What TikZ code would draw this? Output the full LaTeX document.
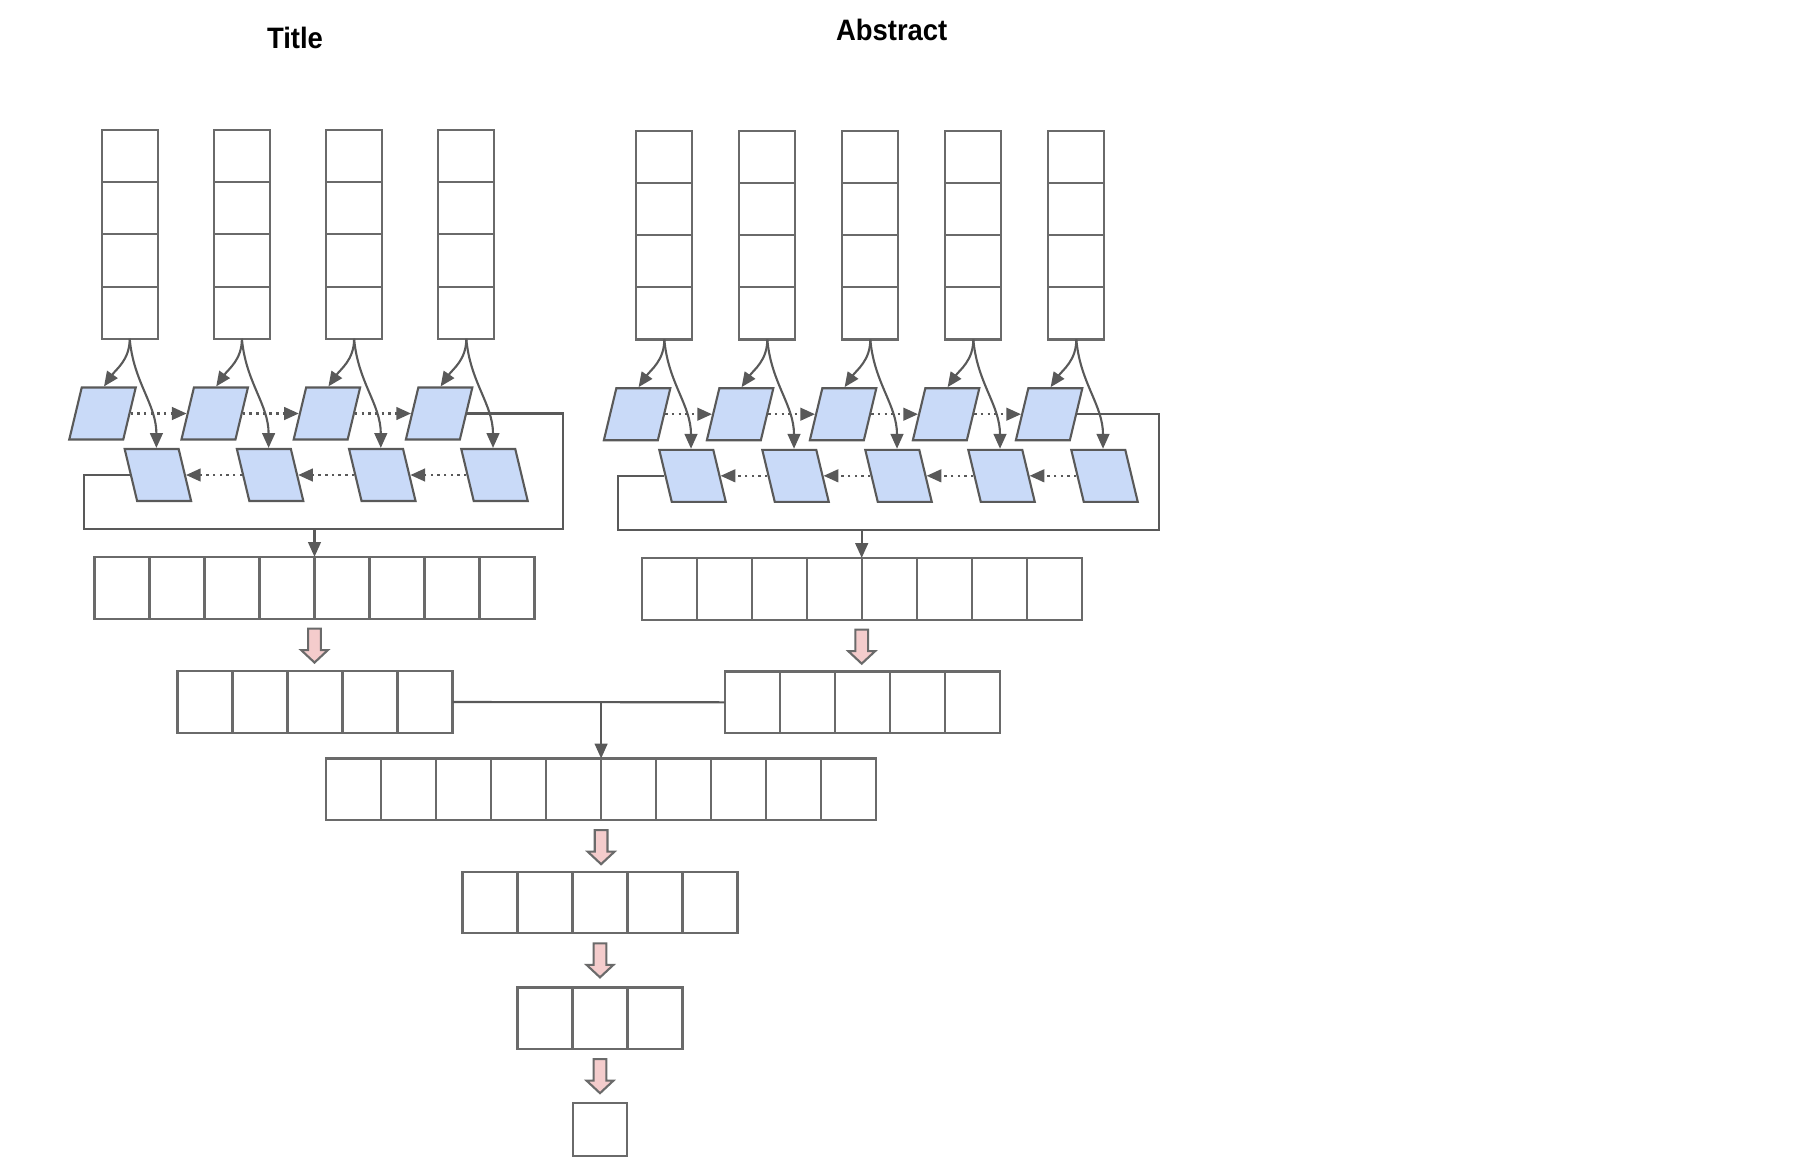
\documentclass[tikz,border=0pt]{standalone}
\usepackage{fontspec}
\newfontfamily\headfont[FakeStretch=0.93]{Liberation Sans}
\usetikzlibrary{arrows.meta,positioning,fit,calc}
\definecolor{LineGray}{HTML}{595959}
\definecolor{CellGray}{HTML}{6A6A6A}
\definecolor{LstmBlue}{HTML}{C9DAF8}
\definecolor{DensePink}{HTML}{F4CCCC}
\tikzset{
    % white slots of the token columns and vectors
    cell/.style={
        rectangle,
        draw=CellGray,
        fill=white,
        line width=0.6pt,
        minimum width=0.55cm,
        minimum height=0.617cm,
        inner sep=0pt,
        outer sep=0pt
    },
    slot/.style={cell, minimum width=0.56cm, minimum height=0.522cm},
    group/.style={inner sep=0pt, outer sep=0pt},
    % slanted lstm units
    lstm/.style={
        rectangle,
        draw=LineGray,
        fill=LstmBlue,
        line width=0.6pt,
        minimum width=0.54cm,
        minimum height=0.52cm,
        inner sep=0pt
    },
    fwd/.style={lstm, xslant=0.24},
    bwd/.style={lstm, xslant=-0.24},
    head/.style={
        font=\headfont\bfseries\fontsize{8.4}{10}\selectfont,
        inner sep=0pt
    },
    line/.style={draw=LineGray, line width=0.6pt},
    arrow/.style={
        -{Triangle[length=4.2pt,width=3.6pt]},
        draw=LineGray,
        line width=0.6pt
    },
    dotarrow/.style={
        arrow,
        line width=0.7pt,
        dash pattern=on 0.7pt off 1.2pt
    },
    fatarrow/.style={draw=CellGray, fill=DensePink, line width=0.6pt},
    pics/fatdown/.style={code={
        \draw[fatarrow] (-0.064,0) -- (0.064,0) -- (0.064,-0.215) -- (0.134,-0.215)
            -- (0,-0.34) -- (-0.134,-0.215) -- (-0.064,-0.215) -- cycle;
    }}
}
\begin{document}
\begin{tikzpicture}
    \useasboundingbox (0,0) rectangle (18.16,-11.69);

    \node[head] (ttitle) at (2.95,-0.375) {Title};
    \node[head] (atitle) at (8.917,-0.30) {Abstract};

    % Title encoder
    \foreach \k in {1,...,4} {
        \foreach \j in {1,...,4}
            \node[slot] (tw\k\j) at ({1.297+1.122*(\k-1)},{-1.30-0.522*(\j-0.5)}) {};
        \node[group, fit=(tw\k1)(tw\k4)] (tw\k) {};
        \node[fwd] (tf\k) at ({1.025+1.122*(\k-1)},-4.135) {};
        \node[bwd] (tb\k) at ({1.579+1.122*(\k-1)},-4.75) {};
        \draw[arrow] (tw\k.south) to[out=-90,in=55] ([xshift=-0.05cm]tf\k.north);
        \draw[arrow] (tw\k.south) to[out=-85,in=90] ([xshift=0.05cm]tb\k.north);
    }
    \foreach \k [count=\n from 2] in {1,...,3} {
        \draw[dotarrow] (tf\k.east) -- (tf\n.west);
        \draw[dotarrow] (tb\n.west) -- (tb\k.east);
    }
    \coordinate (tloopR) at (5.633,-5.29);
    \coordinate (tloopL) at (0.843,-5.29);
    \draw[line] (tf4.east) -| (tloopR) -- (tloopL) |- (tb1.west);

    \foreach \i in {1,...,8}
        \node[cell] (tc\i) at ({1.22+0.55*(\i-1)},-5.877) {};
    \node[group, fit=(tc1)(tc8)] (tcat) {};
    \draw[arrow] (tloopL -| tcat.north) -- (tcat.north);

    % Abstract encoder
    \foreach \k in {1,...,5} {
        \foreach \j in {1,...,4}
            \node[slot] (aw\k\j) at ({6.643+1.03*(\k-1)},{-1.307-0.522*(\j-0.5)}) {};
        \node[group, fit=(aw\k1)(aw\k4)] (aw\k) {};
        \node[fwd] (af\k) at ({6.371+1.03*(\k-1)},-4.142) {};
        \node[bwd] (ab\k) at ({6.925+1.03*(\k-1)},-4.758) {};
        \draw[arrow] (aw\k.south) to[out=-90,in=55] ([xshift=-0.05cm]af\k.north);
        \draw[arrow] (aw\k.south) to[out=-85,in=90] ([xshift=0.05cm]ab\k.north);
    }
    \foreach \k [count=\n from 2] in {1,...,4} {
        \draw[dotarrow] (af\k.east) -- (af\n.west);
        \draw[dotarrow] (ab\n.west) -- (ab\k.east);
    }
    \coordinate (aloopR) at (11.59,-5.30);
    \coordinate (aloopL) at (6.183,-5.30);
    \draw[line] (af5.east) -| (aloopR) -- (aloopL) |- (ab1.west);

    \foreach \i in {1,...,8}
        \node[cell] (ac\i) at ({6.692+0.55*(\i-1)},-5.888) {};
    \node[group, fit=(ac1)(ac8)] (acat) {};
    \draw[arrow] (aloopL -| acat.north) -- (acat.north);

    % Dense layers
    \foreach \i in {1,...,5}
        \node[cell] (tr\i) at ({2.05+0.55*(\i-1)},-7.02) {};
    \node[group, fit=(tr1)(tr5)] (tred) {};
    \foreach \i in {1,...,5}
        \node[cell] (ar\i) at ({7.522+0.55*(\i-1)},-7.023) {};
    \node[group, fit=(ar1)(ar5)] (ared) {};
    \pic at ([yshift=-0.1cm]tcat.south) {fatdown};
    \pic at ([yshift=-0.1cm]acat.south) {fatdown};

    \foreach \i in {1,...,10}
        \node[cell] (m\i) at ({3.536+0.55*(\i-1)},-7.893) {};
    \node[group, fit=(m1)(m10)] (merged) {};
    \draw[line] (tred.east) -- (ared.west);
    \draw[arrow] (tred.east -| merged.north) -- (merged.north);

    \foreach \i in {1,...,5}
        \node[cell] (h\i) at ({4.9+0.55*(\i-1)},-9.025) {};
    \node[group, fit=(h1)(h5)] (hidden) {};
    \pic at ([yshift=-0.1cm]merged.south) {fatdown};

    \foreach \i in {1,...,3}
        \node[cell] (g\i) at ({5.45+0.55*(\i-1)},-10.183) {};
    \node[group, fit=(g1)(g3)] (hidden2) {};
    \pic at ([yshift=-0.1cm]hidden.south) {fatdown};

    \node[cell, minimum width=0.534cm, minimum height=0.533cm] (out) at (6.0,-11.293) {};
    \pic at ([yshift=-0.1cm]hidden2.south) {fatdown};
\end{tikzpicture}
\end{document}
